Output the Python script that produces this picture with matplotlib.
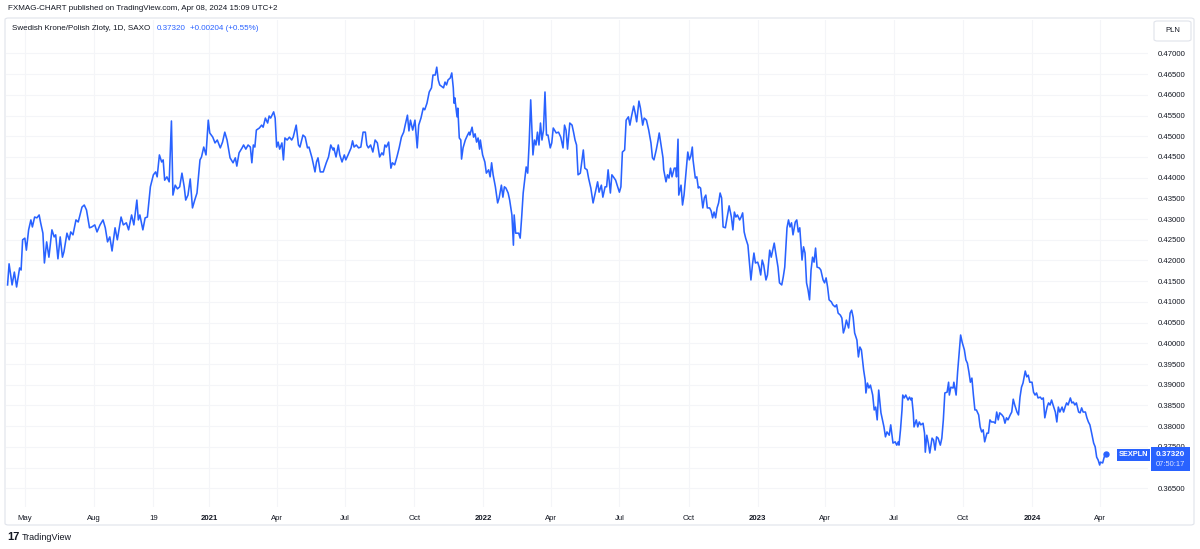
import matplotlib
matplotlib.use('Agg')
import matplotlib.pyplot as plt
import matplotlib.dates as mdates
from matplotlib.patches import FancyBboxPatch, Rectangle
import numpy as np
import pandas as pd

# ---------------- data ----------------
BASE_DATE = '2021-01-01'   # day_offsets are days relative to this date

day_offsets = [
    -268, -266, -262, -259, -256, -252, -250, -248, -245, -243, -240, -237, -235, -232, -229, -226, -224, -221, -219, -216,
    -213, -209, -206, -204, -201, -198, -195, -193, -189, -186, -184, -181, -177, -174, -169, -166, -163, -159, -156, -152,
    -149, -145, -141, -138, -135, -132, -129, -125, -122, -117, -114, -110, -107, -103, -100, -96, -94, -92, -88, -85,
    -82, -78, -74, -71, -69, -66, -63, -61, -59, -56, -53, -50, -48, -45, -42, -39, -36, -33, -31, -28,
    -25, -22, -19, -16, -12, -10, -7, -4, -1, 1, 5, 8, 11, 15,
    18, 21, 24, 28, 32, 35, 37, 40, 44, 46, 49, 52, 55, 57, 59, 61, 63, 67, 70, 72,
    75, 78, 80, 82, 86, 88, 90, 92, 94, 97, 99, 101, 104, 107, 110, 112, 116, 119, 121, 125,
    128, 131, 133, 137, 139, 141, 143, 145, 148, 152, 156, 159, 162, 165, 166, 169, 172, 174, 177, 180,
    182, 185, 189, 191, 193, 196, 199, 202, 205, 208, 210, 212, 215, 218, 221, 224, 227, 230, 232, 234,
    236, 239, 242, 244, 247, 250, 253, 256, 259, 261, 264, 266, 268, 271, 274, 277, 279, 282, 285, 287,
    290, 293, 296, 298, 301, 303, 305, 307,
    312, 314, 316, 318, 321, 323, 325, 326, 327, 330, 331, 333, 335, 336, 338, 341, 344, 346, 347, 350,
    352, 354, 356, 358, 360, 361, 364, 367, 369, 372, 374, 376, 378, 381, 384, 386, 389, 391, 393, 395,
    398, 400, 403, 405, 406, 408, 412, 414, 416, 418, 422, 424, 426, 428, 431, 433, 435, 437, 439, 441,
    443, 445, 447, 449, 451, 454, 456, 458, 462, 465, 468, 471, 473, 475, 477, 480, 483, 485, 487, 489,
    491, 494, 496, 498, 500, 503, 505, 508, 511, 514, 517, 519, 522, 524, 527, 529, 531, 534, 536, 538,
    541, 543, 546, 548, 550, 553, 555, 558, 560, 562, 565, 567, 569, 572, 574, 577, 579, 582, 585, 588,
    590, 592, 595, 597, 599, 601, 604, 605, 608, 610, 612, 614, 616, 619, 621, 622, 624, 625,
    628, 630, 632, 635, 637, 639, 641, 643, 644, 647, 649, 651, 652, 654, 657, 659, 661, 663, 666, 668,
    670, 672, 674, 676, 678, 680, 682, 684, 687, 690, 692, 695, 697, 699, 701, 703, 706, 708, 710, 712,
    714, 717, 719, 721, 723, 725, 727, 730, 732, 734, 736, 738, 741, 743, 746, 748, 750, 752, 754, 757,
    759, 762, 764, 766, 769, 771, 773, 775, 777, 780, 782, 784, 786, 789, 791, 793, 795, 797, 799, 801,
    803, 805, 807, 809, 812, 814, 817, 819, 821, 823, 825, 828, 830, 833, 835, 837, 840, 842, 844, 846,
    848, 851, 853, 855, 857, 859, 862, 864, 866, 868, 871, 873, 874, 876, 878, 880, 883, 885, 887, 889,
    891, 894, 896, 898, 900, 902, 905,
    907, 910, 913, 915, 917, 918, 920, 922, 923, 925, 927, 930, 932, 934, 935, 937, 938, 941, 943, 945,
    947, 950, 952, 953, 955, 957, 959, 962, 964, 966, 968, 970, 973, 975, 977, 979, 982, 984, 985, 987,
    990, 991, 994, 996, 998, 1000, 1002, 1005, 1007, 1009, 1011, 1013, 1015, 1017, 1019, 1021, 1024, 1026, 1028, 1030,
    1032, 1035, 1037, 1039, 1041, 1044, 1046, 1048, 1050, 1052, 1055, 1057, 1059, 1061, 1063, 1066, 1068, 1070, 1072, 1075,
    1077, 1079, 1081, 1083, 1086, 1088, 1090, 1092, 1095, 1097, 1099, 1101, 1103, 1106, 1108, 1110, 1112, 1115, 1117, 1119,
    1121, 1123, 1126, 1128, 1130, 1132, 1135, 1137, 1139, 1141, 1143, 1146, 1148, 1150, 1152, 1154, 1157, 1159, 1161, 1163,
    1166, 1168, 1170, 1172, 1174, 1177, 1179, 1181, 1183, 1185, 1186, 1189, 1191, 1193,
]

rates = [
    .4141, .4192, .4141, .4172, .4136, .4182, .4177, .4250, .4254, .4225, .4274, .4298, .4281, .4305, .4303, .4310, .4291, .4266, .4194, .4245,
    .4208, .4274, .4257, .4262, .4204, .4257, .4208, .4221, .4266, .4250, .4269, .4262, .4298, .4293, .4329, .4334, .4322, .4279, .4281, .4286,
    .4269, .4286, .4298, .4279, .4245, .4257, .4223, .4279, .4250, .4305, .4286, .4291, .4274, .4310, .4286, .4346, .4298, .4310, .4274, .4303,
    .4305, .4378, .4407, .4414, .4402, .4455, .4438, .4443, .4394, .4402, .4390, .4537, .4358, .4382, .4373, .4378, .4411, .4378, .4346, .4358,
    .4397, .4327, .4346, .4363, .4443, .4450, .4474, .4455, .4539, .4508, .4498, .4484, .4491, .4472,
    .4486, .4510, .4491, .4448, .4436, .4448, .4428, .4460, .4472, .4479, .4469, .4479, .4474, .4436, .4479, .4474, .4515, .4520, .4527, .4522,
    .4544, .4532, .4549, .4544, .4559, .4544, .4474, .4486, .4469, .4484, .4443, .4496, .4491, .4498, .4491, .4498, .4527, .4479, .4474, .4503,
    .4498, .4472, .4474, .4448, .4431, .4414, .4438, .4448, .4414, .4414, .4436, .4450, .4479, .4467, .4472, .4450, .4479, .4455, .4438, .4455,
    .4443, .4455, .4472, .4489, .4474, .4479, .4472, .4474, .4510, .4510, .4479, .4472, .4479, .4462, .4491, .4484, .4450, .4460, .4455, .4479,
    .4474, .4486, .4423, .4436, .4431, .4450, .4472, .4498, .4510, .4527, .4551, .4513, .4539, .4515, .4539, .4472, .4527, .4544, .4568, .4564,
    .4580, .4607, .4617, .4648, .4648, .4667, .4636, .4624,
    .4617, .4631, .4624, .4636, .4641, .4653, .4617, .4580, .4593, .4547, .4568, .4496, .4491, .4445, .4472, .4491, .4503, .4510, .4503, .4522,
    .4498, .4506, .4486, .4496, .4469, .4491, .4455, .4438, .4411, .4419, .4402, .4436, .4407, .4378, .4339, .4351, .4382, .4353, .4378, .4375,
    .4363, .4346, .4310, .4237, .4310, .4266, .4266, .4254, .4305, .4363, .4426, .4411, .4486, .4588, .4455, .4491, .4479, .4510, .4479, .4532,
    .4491, .4515, .4607, .4503, .4503, .4472, .4484, .4520, .4508, .4510, .4498, .4472, .4527, .4515, .4469, .4532, .4527, .4510, .4491, .4479,
    .4407, .4411, .4438, .4467, .4423, .4419, .4399, .4375, .4339, .4365, .4390, .4365, .4382, .4353, .4378, .4378, .4419, .4363, .4407, .4402,
    .4394, .4382, .4365, .4378, .4462, .4467, .4539, .4547, .4527, .4547, .4573, .4556, .4535, .4585, .4568, .4527, .4544, .4539, .4515, .4484,
    .4448, .4443, .4467, .4486, .4508, .4484, .4448, .4419, .4390, .4407, .4399, .4423, .4402, .4423, .4423, .4402, .4493, .4358,
    .4382, .4334, .4358, .4419, .4462, .4443, .4452, .4474, .4443, .4399, .4402, .4375, .4378, .4375, .4327, .4351, .4358, .4327, .4327, .4320,
    .4303, .4317, .4303, .4327, .4339, .4363, .4351, .4281, .4279, .4310, .4332, .4305, .4274, .4317, .4305, .4310, .4298, .4305, .4315, .4269,
    .4254, .4237, .4196, .4153, .4189, .4218, .4194, .4196, .4184, .4165, .4201, .4189, .4153, .4165, .4225, .4208, .4225, .4242, .4218, .4184,
    .4146, .4141, .4160, .4184, .4279, .4298, .4281, .4291, .4262, .4293, .4298, .4269, .4279, .4201, .4233, .4218, .4146, .4129, .4105, .4177,
    .4208, .4196, .4230, .4184, .4182, .4177, .4153, .4146, .4158, .4136, .4105, .4100, .4093, .4088, .4093, .4073, .4068, .4061, .4025, .4037,
    .4056, .4037, .4073, .4080, .4063, .4025, .4008, .3967, .3991, .3984, .3935, .3911, .3880, .3904, .3892, .3899, .3875, .3839, .3846, .3815,
    .3887, .3832, .3815, .3798, .3774, .3786, .3778,
    .3803, .3759, .3762, .3754, .3762, .3754, .3791, .3839, .3875, .3868, .3875, .3863, .3870, .3863, .3868, .3832, .3798, .3815, .3798, .3810,
    .3803, .3807, .3783, .3737, .3778, .3759, .3735, .3771, .3766, .3742, .3774, .3771, .3754, .3771, .3815, .3880, .3882, .3906, .3875, .3894,
    .3892, .3906, .3875, .3931, .3977, .4020, .4003, .3984, .3960, .3952, .3931, .3906, .3916, .3875, .3839, .3839, .3827, .3798, .3786, .3791,
    .3762, .3783, .3783, .3815, .3810, .3810, .3807, .3834, .3815, .3832, .3827, .3822, .3807, .3820, .3815, .3827, .3834, .3865, .3851, .3834,
    .3827, .3870, .3894, .3904, .3933, .3919, .3923, .3906, .3906, .3882, .3875, .3880, .3868, .3870, .3865, .3868, .3820, .3846, .3856, .3851,
    .3863, .3851, .3834, .3810, .3846, .3834, .3846, .3834, .3846, .3856, .3851, .3868, .3856, .3858, .3851, .3856, .3834, .3832, .3844, .3834,
    .3834, .3820, .3810, .3803, .3786, .3759, .3750, .3725, .3718, .3706, .3713, .3711, .3725, .3732,
]

price_ticks = [0.365, 0.370, 0.375, 0.380, 0.385, 0.390, 0.395, 0.400, 0.405, 0.410, 0.415,
               0.420, 0.425, 0.430, 0.435, 0.440, 0.445, 0.450, 0.455, 0.460, 0.465, 0.470]
hidden_price_ticks = [0.370]   # covered by the last-price badge in the original

time_tick_dates = ['2020-05-01', '2020-08-01', '2020-10-19', '2021-01-01', '2021-04-01', '2021-07-01',
                   '2021-10-01', '2022-01-01', '2022-04-01', '2022-07-01', '2022-10-01', '2023-01-01',
                   '2023-04-01', '2023-07-01', '2023-10-01', '2024-01-01', '2024-04-01']
time_tick_labels = ['May', 'Aug', '19', '2021', 'Apr', 'Jul', 'Oct', '2022', 'Apr', 'Jul', 'Oct',
                    '2023', 'Apr', 'Jul', 'Oct', '2024', 'Apr']

symbol = 'SEXPLN'
last_price = '0.37320'
countdown = '07:50:17'

# ---------------- figure ----------------
plt.rcParams['font.family'] = ['Liberation Sans', 'DejaVu Sans']
W, H = 1200, 549
fig = plt.figure(figsize=(W / 100, H / 100), dpi=100)
fig.patch.set_facecolor('white')

def fx(px):
    return px / W

def fy(py):
    return 1 - py / H

TXT = '#131722'
BLUE = '#2962ff'

# chart pane border
fig.patches.append(FancyBboxPatch((fx(5), fy(525)), fx(1194) - fx(5), fy(18) - fy(525),
                                  boxstyle='round,pad=0,rounding_size=0.003',
                                  transform=fig.transFigure, fc='none', ec='#e0e3eb', lw=0.8, zorder=0))

ax = fig.add_axes([fx(6), fy(507), fx(1148) - fx(6), fy(20) - fy(507)])
ax.set_facecolor('none')
base = mdates.date2num(pd.Timestamp(BASE_DATE))
xs = base + np.array(day_offsets, dtype=float)
ax.plot(xs, rates, color=BLUE, lw=1.15, solid_joinstyle='round', zorder=3)
ax.plot(xs[-1], rates[-1], 'o', ms=3.6, color=BLUE, zorder=4)

ax.set_xlim(base - 270.1, base + 1249.3)
ax.set_ylim(0.36046, 0.47809)

ax.yaxis.tick_right()
ax.set_yticks(price_ticks)
ax.set_yticklabels(['' if any(abs(t - h) < 1e-9 for h in hidden_price_ticks) else f'{t:.5f}'
                    for t in price_ticks])
ax.tick_params(axis='y', length=0, pad=7, labelsize=5.6, labelcolor=TXT)

ax.set_xticks([mdates.date2num(pd.Timestamp(d)) for d in time_tick_dates])
ax.set_xticklabels(time_tick_labels)
ax.tick_params(axis='x', length=0, pad=6, labelsize=5.6, labelcolor=TXT)
for lbl, t in zip(ax.get_xticklabels(), time_tick_labels):
    if len(t) == 4 and t.isdigit():
        lbl.set_fontweight('bold')

for s in ax.spines.values():
    s.set_visible(False)
ax.grid(True, color='#f4f5f8', lw=0.8, zorder=0)

# header texts
fig.text(fx(8), fy(9), 'FXMAG-CHART published on TradingView.com, Apr 08, 2024 15:09 UTC+2',
         fontsize=5.8, color=TXT, va='center', ha='left')
fig.text(fx(12), fy(29), 'Swedish Krone/Polish Zloty, 1D, SAXO', fontsize=5.8, color=TXT, va='center', ha='left')
fig.text(fx(157), fy(29), '0.37320', fontsize=5.8, color=BLUE, va='center', ha='left')
fig.text(fx(190), fy(29), '+0.00204 (+0.55%)', fontsize=5.8, color=BLUE, va='center', ha='left')

# PLN box
fig.patches.append(FancyBboxPatch((fx(1154), fy(41)), fx(1191) - fx(1154), fy(21) - fy(41),
                                  boxstyle='round,pad=0,rounding_size=0.003',
                                  transform=fig.transFigure, fc='white', ec='#e0e3eb', lw=0.8, zorder=5))
fig.text(fx(1172.5), fy(31), 'PLN', fontsize=5.5, color=TXT, va='center', ha='center', zorder=6)

# symbol + last price labels
fig.patches.append(Rectangle((fx(1117), fy(461)), fx(1150) - fx(1117), fy(449) - fy(461),
                             transform=fig.transFigure, fc=BLUE, ec='none', zorder=5))
fig.text(fx(1133.5), fy(455), symbol, fontsize=5.3, color='white', fontweight='bold',
         va='center', ha='center', zorder=6)
fig.patches.append(Rectangle((fx(1151), fy(471)), fx(1190) - fx(1151), fy(447) - fy(471),
                             transform=fig.transFigure, fc=BLUE, ec='none', zorder=5))
fig.text(fx(1170.5), fy(454.5), last_price, fontsize=5.8, color='white', fontweight='bold',
         va='center', ha='center', zorder=6)
fig.text(fx(1170.5), fy(464.5), countdown, fontsize=5.4, color='#dbe4ff',
         va='center', ha='center', zorder=6)

# footer logo
fig.text(fx(7), fy(537), '17', fontsize=8, color=TXT, fontweight='bold', va='center', ha='left')
fig.text(fx(22), fy(537), 'TradingView', fontsize=6.5, color=TXT, va='center', ha='left')

fig.savefig('out.png', dpi=100, facecolor='white')
